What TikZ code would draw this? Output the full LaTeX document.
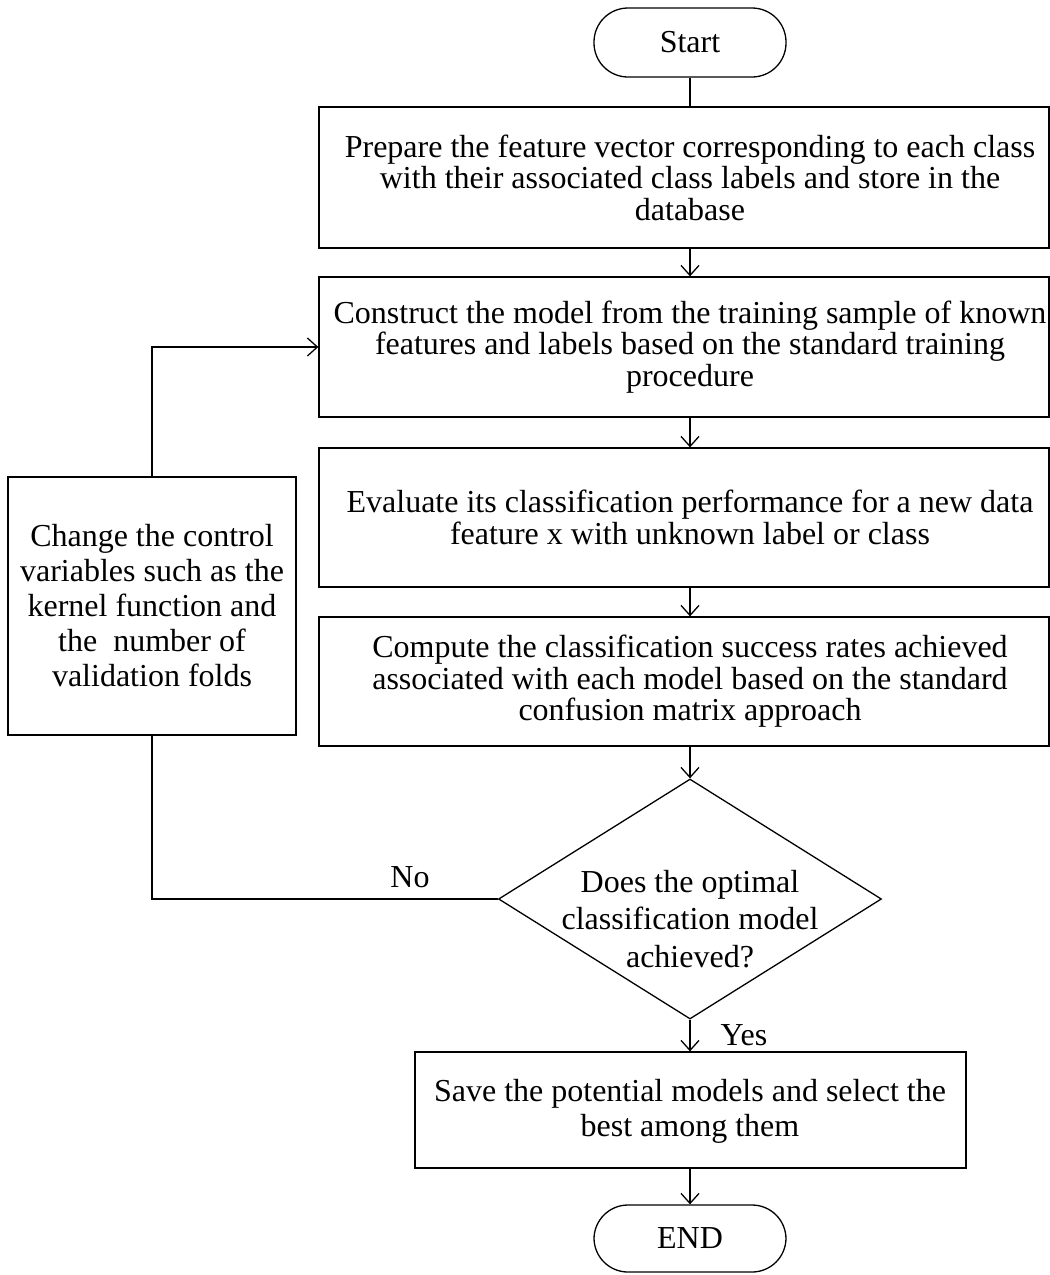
\documentclass[tikz,border=0pt]{standalone}
\usepackage{fontspec}
\setmainfont{Liberation Serif}
\usetikzlibrary{arrows.meta,shapes.geometric}
\newcommand\fsA{\fontsize{32}{31.5}\selectfont}
\newcommand\fsB{\fontsize{32}{35}\selectfont}
\newcommand\fsC{\fontsize{32}{37.5}\selectfont}
\tikzset{
  boxshape/.style={draw, line width=1.3pt, rectangle, inner sep=0pt},
  termshape/.style={draw, line width=1.3pt, rectangle, rounded corners=34pt, minimum width=192pt, inner sep=0pt, font=\fsA},
  txt/.style={align=center, inner sep=0pt},
  conn/.style={line width=1.3pt},
  arr/.style={line width=1.3pt, -{Straight Barb[length=10pt,width=18pt,line width=1.3pt]}},
}
\begin{document}
\begin{tikzpicture}[x=1pt,y=-1pt]
\useasboundingbox (0,0) rectangle (1050,1275);
% terminals
\node[termshape, minimum height=69pt] (start) at (690,42.5) {Start};
\node[termshape, minimum height=67pt] (end) at (690,1238.5) {END};
% process boxes
\node[boxshape, minimum width=730pt, minimum height=141pt] (b1) at (684,177.5) {};
\node[txt, font=\fsA] (t1) at (690,177.5) {Prepare the feature vector corresponding to each class\\with their associated class labels and store in the\\database};
\node[boxshape, minimum width=730pt, minimum height=140pt] (b2) at (684,347) {};
\node[txt, font=\fsA] (t2) at (690,347) {Construct the model from the training sample of known\\features and labels based on the standard training\\procedure};
\node[boxshape, minimum width=730pt, minimum height=139pt] (b3) at (684,517.5) {};
\node[txt, font=\fsA] (t3) at (690,517.5) {Evaluate its classification performance for a new data\\feature x with unknown label or class};
\node[boxshape, minimum width=730pt, minimum height=129pt] (b4) at (684,681.5) {};
\node[txt, font=\fsA] (t4) at (690,681.5) {Compute the classification success rates achieved\\associated with each model based on the standard\\confusion matrix approach};
% decision
\node[draw, diamond, line width=1.3pt, minimum width=383pt, minimum height=240pt, inner sep=0pt] (dec) at (690,899) {};
\node[txt, font=\fsC] (td) at (690,919) {Does the optimal\\classification model\\achieved?};
% save box
\node[boxshape, minimum width=551pt, minimum height=116pt] (b5) at (690.5,1110) {};
\node[txt, font=\fsB] (t5) at (690,1111) {Save the potential models and select the\\best among them};
% left box
\node[boxshape, minimum width=288pt, minimum height=258pt] (left) at (152,606) {};
\node[txt, font=\fsB] (tl) at (152,606) {Change the control\\variables such as the\\kernel function and\\the\ \ number of\\validation folds};
% labels
\node[txt, font=\fsA] (no) at (410,877) {No};
\node[txt, font=\fsA] (yes) at (744,1035) {Yes};
% connectors
\draw[conn] (start.south) -- (b1.north -| start.south);
\draw[arr] (b1.south -| start.south) -- (b2.north -| start.south);
\draw[arr] (b2.south -| start.south) -- (b3.north -| start.south);
\draw[arr] (b3.south -| start.south) -- (b4.north -| start.south);
\draw[arr] (b4.south -| dec.north) -- (dec.north);
\draw[arr] (dec.south) -- (b5.north -| dec.south);
\draw[arr] (b5.south -| end.north) -- (end.north);
\draw[conn] (dec.west) -| (left.south);
\draw[arr] (left.north) |- (b2.west);
\end{tikzpicture}
\end{document}
